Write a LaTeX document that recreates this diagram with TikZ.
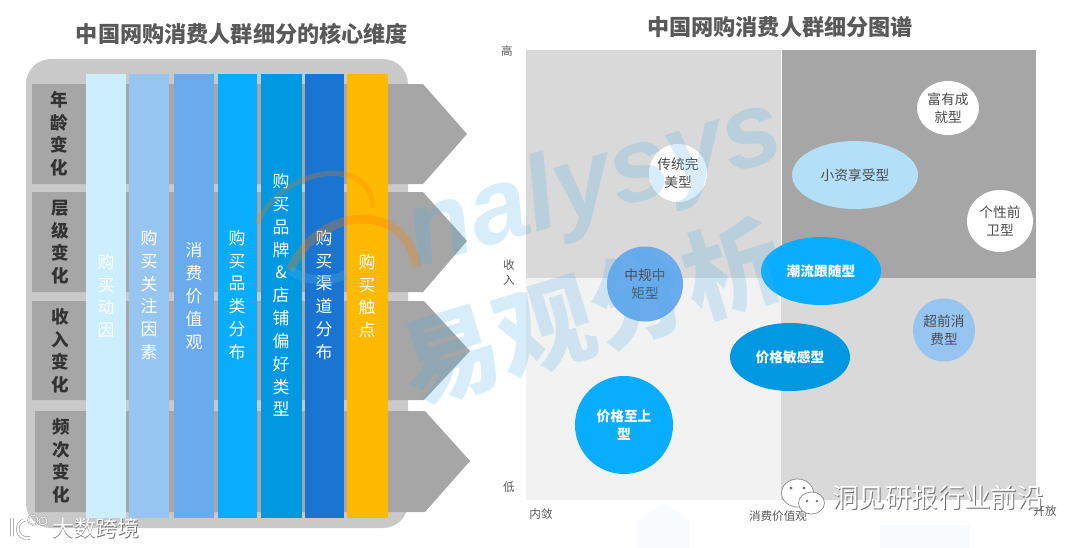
\documentclass[tikz,border=0pt]{standalone}
\usepackage{fontspec}
\usetikzlibrary{shapes.geometric}
\newfontfamily\cjk{Noto Sans CJK SC}
\newfontfamily\wmlatin{Liberation Sans}

\definecolor{panelgray}{HTML}{C9C9C9}
\definecolor{rowgray}{HTML}{A6A6A6}
\definecolor{titlegray}{HTML}{595959}
\definecolor{barA}{HTML}{CCEEFF}
\definecolor{barB}{HTML}{97C5F2}
\definecolor{barC}{HTML}{6AABEE}
\definecolor{barD}{HTML}{09ADFF}
\definecolor{barE}{HTML}{0098E0}
\definecolor{barF}{HTML}{1A75D2}
\definecolor{barG}{HTML}{FFB900}
\definecolor{paleblue}{HTML}{B3DFF7}
\definecolor{markblue}{HTML}{4FAEE8}

\begin{document}
\begin{tikzpicture}[
    x=0.02cm, y=-0.02cm, % one unit is one pixel of the picture
    font=\cjk,
    title_text/.style={font=\cjk\bfseries\fontsize{12.6}{15}\selectfont, text=titlegray},
    row_shape/.style={fill=rowgray},
    row_label/.style={font=\cjk\bfseries\fontsize{10}{12.8}\selectfont, text=black!80, align=center, inner sep=0pt},
    col_bar/.style={minimum width=40*0.02cm, minimum height=444*0.02cm, inner sep=0pt, align=center, text=white, font=\cjk\fontsize{9.6}{13}\selectfont},
    axis_label/.style={font=\cjk\fontsize{6.6}{8.5}\selectfont, text=titlegray, align=center, inner sep=0pt},
    bubble/.style={ellipse, inner sep=0pt, align=center, font=\cjk\fontsize{7.8}{10.5}\selectfont, text=black!70},
    bubble_light/.style={bubble, text=white, font=\cjk\bfseries\fontsize{7.8}{10.5}\selectfont},
    mark_text/.style={text=markblue, opacity=0.22, inner sep=0pt},
    stamp_shadow/.style={text=black!55, inner sep=0pt},
    stamp_text/.style={text=white, inner sep=0pt}
]
\useasboundingbox (0,0) rectangle (1080,548);

% Left title
\node[title_text] (title_left) at (242,34) {中国网购消费人群细分的核心维度};

% Panel behind the bars
\fill[panelgray, rounded corners=0.5cm] (26,59) rectangle (408,528);

% Rows with their arrow heads
\fill[row_shape] (32,84) -- (423,84) -- (467,134) -- (423,184) -- (32,184) -- cycle;
\fill[row_shape] (32,192) -- (423,192) -- (467,241) -- (423,292) -- (32,292) -- cycle;
\fill[row_shape] (32,301) -- (424,301) -- (470,351) -- (424,400) -- (32,400) -- cycle;
\fill[row_shape] (35,411) -- (425,411) -- (470,461) -- (425,512) -- (35,512) -- cycle;

% Row labels
\node[row_label] (row_age) at (59,134) {年\\龄\\变\\化};
\node[row_label] (row_tier) at (60,242) {层\\级\\变\\化};
\node[row_label] (row_income) at (60,351) {收\\入\\变\\化};
\node[row_label] (row_freq) at (61,461) {频\\次\\变\\化};

% Column bars
\fill[barA] (86,74) rectangle (126,518);
\fill[barB] (129,74) rectangle (169,518);
\fill[barC] (174,74) rectangle (214,518);
\fill[barD] (218,74) rectangle (257,518);
\fill[barE] (261,74) rectangle (302,518);
\fill[barF] (305,74) rectangle (344,518);
\fill[barG] (347,74) rectangle (388,518);

% Column labels
\node[col_bar] (col_motive) at (106,296) {购\\买\\动\\因};
\node[col_bar] (col_factor) at (149,295) {购\\买\\关\\注\\因\\素};
\node[col_bar] (col_value) at (194,296) {消\\费\\价\\值\\观};
\node[col_bar] (col_category) at (237,295) {购\\买\\品\\类\\分\\布};
\node[col_bar] (col_brand) at (281,295) {购\\买\\品\\牌\\\&\\店\\铺\\偏\\好\\类\\型};
\node[col_bar] (col_channel) at (324,295) {购\\买\\渠\\道\\分\\布};
\node[col_bar] (col_touch) at (367,296) {购\\买\\触\\点};

% Right title
\node[title_text] (title_right) at (780,27) {中国网购消费人群细分图谱};

% Quadrants
\fill[gray!30] (526,50) rectangle (781,278);
\fill[rowgray] (781,50) rectangle (1036,278);
\fill[black!5] (526,278) rectangle (781,500);
\fill[gray!30] (781,278) rectangle (1036,500);
\draw[white, thin] (781,50) -- (781,278);

% Axis labels
\node[axis_label] (axis_high) at (507,51) {高};
\node[axis_label] (axis_mid) at (509,273) {收\\入};
\node[axis_label] (axis_low) at (509,487) {低};
\node[axis_label] (axis_closed) at (541,514) {内敛};
\node[axis_label] (axis_value) at (778,516) {消费价值观};
\node[axis_label] (axis_open) at (1045,511) {开放};

% Bubbles
\node[bubble, fill=white, minimum width=52*0.02cm, minimum height=58*0.02cm] (seg_classic) at (678,173) {传统完\\美型};
\node[bubble, fill=white, minimum width=62*0.02cm, minimum height=54*0.02cm] (seg_rich) at (948,108) {富有成\\就型};
\node[bubble, fill=paleblue, minimum width=126*0.02cm, minimum height=68*0.02cm] (seg_petit) at (855,175) {小资享受型};
\node[bubble, fill=white, minimum width=66*0.02cm, minimum height=62*0.02cm] (seg_avant) at (1000,221) {个性前\\卫型};
\node[bubble, fill=barC, minimum width=76*0.02cm, minimum height=75*0.02cm] (seg_moderate) at (645,284) {中规中\\矩型};
\node[bubble_light, fill=barD, minimum width=120*0.02cm, minimum height=68*0.02cm] (seg_trend) at (821,271) {潮流跟随型};
\node[bubble, fill=barB, minimum width=62*0.02cm, minimum height=63*0.02cm] (seg_ahead) at (944,330) {超前消\\费型};
\node[bubble_light, fill=barE, minimum width=120*0.02cm, minimum height=68*0.02cm] (seg_sensitive) at (790,357) {价格敏感型};
\node[bubble_light, fill=barD, minimum width=98*0.02cm, minimum height=98*0.02cm] (seg_price) at (624,425) {价格至上\\型};

% Watermark
\draw[orange, opacity=0.25, line width=3pt] (257,223) .. controls (285,165) and (370,155) .. (373,207);
\draw[orange, opacity=0.3, line width=5pt] (290,270) .. controls (320,205) and (405,200) .. (417,267);
\draw[markblue, opacity=0.3, line width=5pt] (290,270) .. controls (305,282) and (330,282) .. (345,275);
\node[mark_text, font=\wmlatin\bfseries\itshape\fontsize{60}{60}\selectfont, rotate=16.5] (mark_latin) at (595,186) {nalysys};
\node[mark_text, font=\cjk\bfseries\fontsize{56}{56}\selectfont, rotate=17] (mark_cjk) at (592,312) {易观分析};

% Faint houses at the foot
\fill[markblue, opacity=0.04] (637,548) -- (637,520) -- (664,503) -- (690,520) -- (690,548) -- cycle;
\fill[markblue, opacity=0.04] (880,548) -- (880,525) -- (970,525) -- (970,548) -- cycle;

% Account stamps
\fill[white, draw=black!45, thin] (797.5,493) ellipse (16 and 14);
\fill[white, draw=black!45, thin] (811.5,503) ellipse (13 and 11);
\fill[black!55] (791,488) circle (1.6) (804,488) circle (1.6) (807,501) circle (1.4) (817,501) circle (1.4);
\node[stamp_shadow, font=\cjk\fontsize{15}{15}\selectfont] (stamp_shade) at (939,498) {洞见研报行业前沿};
\node[stamp_text, font=\cjk\fontsize{15}{15}\selectfont] (stamp_main) at (938,497) {洞见研报行业前沿};

\draw[black!35, line width=2pt] (12,518) -- (12,536) (24,520) .. controls (14,524) and (16,540) .. (30,538);
\draw[black!35, line width=1pt] (33,520) circle (5) (43,521) circle (4);
\draw[white, line width=1.2pt] (12,518) -- (12,536) (24,520) .. controls (14,524) and (16,540) .. (30,538);
\draw[white, thin] (33,520) circle (5) (43,521) circle (4);
\node[stamp_shadow, font=\cjk\fontsize{12.4}{12.4}\selectfont] (logo_shade) at (96.5,529) {大数跨境};
\node[stamp_text, font=\cjk\fontsize{12.4}{12.4}\selectfont] (logo_main) at (96,528) {大数跨境};

\end{tikzpicture}
\end{document}
